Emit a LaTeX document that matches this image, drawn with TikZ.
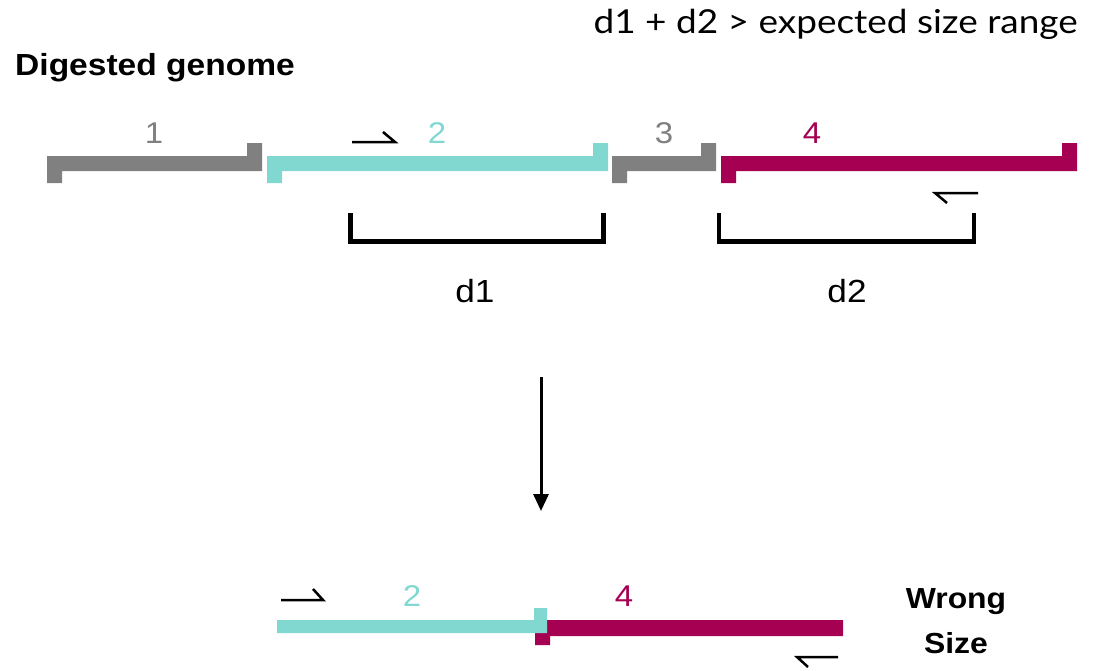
\documentclass[tikz,border=0pt]{standalone}
\usepackage{fontspec}
\usetikzlibrary{arrows.meta}

\newfontfamily\helv[FakeStretch=1.1]{Liberation Sans}
\newfontfamily\ttl[FakeStretch=1.12]{Lato}

\definecolor{fraggray}{RGB}{128,128,128}
\definecolor{fragcyan}{RGB}{128,216,208}
\definecolor{fragmag}{RGB}{165,0,82}

% one digested fragment: colour, left x, right x, top y
\newcommand{\frag}[4]{%
  \fill[#1] (#2,#4) -- (#3-15,#4) -- (#3-15,#4-13) -- (#3,#4-13) -- (#3,#4+15)
    -- (#2+15,#4+15) -- (#2+15,#4+27) -- (#2,#4+27) -- cycle;}

\begin{document}
\begin{tikzpicture}[x=1pt, y=-1pt,
                every node/.style={inner sep=0pt, font=\helv\fontsize{30}{32}\selectfont},
                num/.style={anchor=base},
                title/.style={font=\helv\bfseries\fontsize{30.5}{32}\selectfont},
                primer/.style={draw, line width=2.5pt, line join=miter},
                bracket/.style={draw, line width=4.5pt, line join=miter}]
                
                \useasboundingbox (0,0) rectangle (1098,670);
                
                \node (T) [anchor=base east, font=\ttl\fontsize{33}{34}\selectfont] at (1078,33) {d1 + d2 > expected size range};
                \node (G) [title, anchor=base west] at (15,75) {Digested genome};
                
                % fragments of the digested genome
                \frag{fraggray}{47}{262}{156}
                \frag{fragcyan}{267}{608}{156}
                \frag{fraggray}{612}{716}{156}
                \frag{fragmag}{721}{1077}{156}
                
                \node (F1) [num, text=fraggray] at (154,143) {1};
                \node (F2) [num, text=fragcyan] at (437,143) {2};
                \node (F3) [num, text=fraggray] at (664,143) {3};
                \node (F4) [num, text=fragmag] at (812,143) {4};
                
                \path[primer]
                    (352,142) -- (395,142) -- (383,132) % forward primer
                    (978,193) -- (935,193) -- (947,203); % reverse primer
                
                \path[bracket]
                    (350.5,213) -- (350.5,241.5) -- (603.5,241.5) -- (603.5,213)
                    (719,213) -- (719,241.5) -- (974,241.5) -- (974,213);
                
                \node (D1) [num, font=\helv\fontsize{32}{34}\selectfont] at (475,302) {d1};
                \node (D2) [num, font=\helv\fontsize{32}{34}\selectfont] at (847,302) {d2};
                
                \coordinate (A) at (541,377);
                \coordinate (B) at (541,511);
                \draw[-{Triangle[width=15pt,length=17pt]}, line width=3pt] (A) -- (B);
                
                % ligated product
                \fill[fragmag] (535,620) -- (843,620) -- (843,636) -- (550,636) -- (550,645) -- (535,645) -- cycle;
                \fill[fragcyan] (277,620) -- (534,620) -- (534,608) -- (547,608) -- (547,633) -- (277,633) -- cycle;
                
                \node (L2) [num, text=fragcyan] at (412,606) {2};
                \node (L4) [num, text=fragmag] at (624,606) {4};
                
                \path[primer]
                    (281,600) -- (323,600) -- (313,589) % forward primer
                    (838,657) -- (797,657) -- (808,667); % reverse primer
                
                \node (W) [title, anchor=base, font=\helv\bfseries\fontsize{29}{30}\selectfont] at (956,608) {Wrong};
                \node (S) [title, anchor=base, font=\helv\bfseries\fontsize{29}{30}\selectfont] at (956,653) {Size};
                
                \end{tikzpicture}
\end{document}
